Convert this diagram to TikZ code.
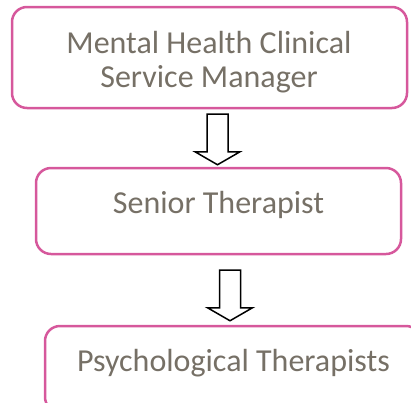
\documentclass[tikz,border=0pt]{standalone}
\usepackage{fontspec}
\setmainfont{Carlito}
\usetikzlibrary{calc}
\definecolor{BoxPink}{RGB}{214,88,156}
\definecolor{TextGrey}{RGB}{118,112,102}
\def\ArrowShaft{10.5pt}
\def\ArrowHead{22.5pt}

\begin{document}
\begin{tikzpicture}[x=1pt, y=-1pt,
    box/.style={draw=BoxPink, line width=2.5pt, rounded corners=15pt, inner sep=0pt},
    txt/.style={text=TextGrey, font=\fontsize{32}{34}\selectfont, align=center, inner sep=0pt},
    hollow/.style={draw=black, line width=1.5pt, fill=white, line join=miter}]
  \clip (0,0) rectangle (411,402);
  % boxes
  \node[box, minimum width=395pt, minimum height=101pt] (mgr) at (209.5,57.5) {};
  \node[box, minimum width=365pt, minimum height=86pt] (senior) at (218.5,211) {};
  \node[box, minimum width=376pt, minimum height=86pt] (psych) at (233,369) {};
  % texts
  \begin{scope}
    \clip (0,0) rectangle (411,92);
    \node[txt, anchor=base] (mgrtext) at (209,87) {Mental Health Clinical\\Service Manager};
  \end{scope}
  \node[txt, anchor=base] (seniortext) at ([yshift=-2pt]senior.center) {Senior Therapist};
  \node[txt, anchor=base] (psychtext) at (233.5,371) {Psychological Therapists};
  % block arrows
  \coordinate (a1top) at (217.5,114);
  \coordinate (a1tip) at ($(senior.north)+(-1,-2)$);
  \coordinate (a2top) at (230,270);
  \coordinate (a2tip) at ($(psych.north)+(-3,-4)$);
  \foreach \t/\h in {a1top/a1tip, a2top/a2tip} {
    \draw[hollow] let \p1=(\t), \p2=(\h) in
      (\x1-\ArrowShaft,\y1) -- (\x1+\ArrowShaft,\y1) -- (\x1+\ArrowShaft,\y2+13pt)
      -- (\x1+\ArrowHead,\y2+13pt) -- (\x1,\y2) -- (\x1-\ArrowHead,\y2+13pt)
      -- (\x1-\ArrowShaft,\y2+13pt) -- cycle;
  }
\end{tikzpicture}
\end{document}
